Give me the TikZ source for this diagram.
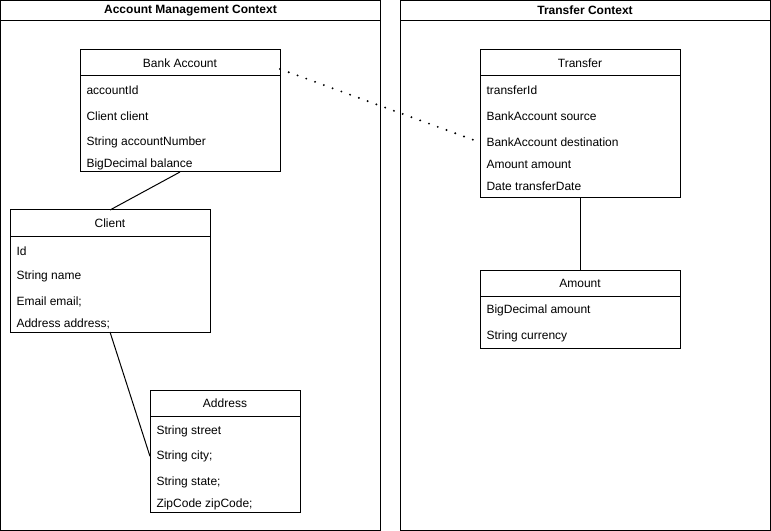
\documentclass[tikz,border=0pt]{standalone}
\usepackage{fontspec}
\setmainfont{Liberation Sans}
\usetikzlibrary{positioning}

\begin{document}
\begin{tikzpicture}[x=0.75pt, y=-0.75pt,
    line width=0.75pt,
    font=\fontsize{9}{11}\selectfont,
       frame/.style = {draw, inner sep=0pt, outer sep=0pt},% boxes
         ctx/.style = {frame, minimum height=15pt, font=\fontsize{9}{11}\selectfont\bfseries},% context titles
        head/.style = {frame, minimum height=19.5pt},% class titles
         row/.style = {anchor=west, inner sep=0pt, yshift=-1pt}% attributes
    ]
    \useasboundingbox (0,0) rectangle (771,531);
    % contexts
    \node (amctx) [ctx, minimum width=285pt, anchor=north west] at (0.5,0.5) {Account Management Context};
    \node (ambody) [frame, minimum width=285pt, minimum height=382.5pt, below=0pt of amctx] {};
    \node (trctx) [ctx, minimum width=277.5pt, anchor=north west] at (400,0.5) {Transfer Context};
    \node (trbody) [frame, minimum width=277.5pt, minimum height=382.5pt, below=0pt of trctx] {};
    % bank account
    \node (bankhead) [head, minimum width=150pt, anchor=north west] at (80,50) {Bank Account};
    \node (bank) [frame, minimum width=150pt, minimum height=72pt, below=0pt of bankhead] {};
    \node (bank1) [row] at (86,89) {accountId};
    \node (bank2) [row] at (86,115) {Client client};
    \node (bank3) [row] at (86,141) {String accountNumber};
    \node (bank4) [row] at (86,163) {BigDecimal balance};
    % client
    \node (clienthead) [head, minimum width=150pt, anchor=north west] at (10,210) {Client};
    \node (client) [frame, minimum width=150pt, minimum height=72pt, below=0pt of clienthead] {};
    \node (client1) [row] at (16,250) {Id};
    \node (client2) [row] at (16,275) {String name};
    \node (client3) [row] at (16,301) {Email email;};
    \node (client4) [row] at (16,323) {Address address;};
    % address
    \node (addresshead) [head, minimum width=112.5pt, anchor=north west] at (150,390) {Address};
    \node (address) [frame, minimum width=112.5pt, minimum height=72pt, below=0pt of addresshead] {};
    \node (address1) [row] at (156,430) {String street};
    \node (address2) [row] at (156,455) {String city;};
    \node (address3) [row] at (156,481) {String state;};
    \node (address4) [row] at (156,503) {ZipCode zipCode;};
    % transfer
    \node (transferhead) [head, minimum width=150pt, anchor=north west] at (480,50) {Transfer};
    \node (transfer) [frame, minimum width=150pt, minimum height=91.5pt, below=0pt of transferhead] {};
    \node (transfer1) [row] at (486,89) {transferId};
    \node (transfer2) [row] at (486,115) {BankAccount source};
    \node (transfer3) [row] at (486,141) {BankAccount destination};
    \node (transfer4) [row] at (486,163) {Amount amount};
    \node (transfer5) [row] at (486,185) {Date transferDate};
    % amount
    \node (amounthead) [head, minimum width=150pt, anchor=north west] at (480,270) {Amount};
    \node (amount) [frame, minimum width=150pt, minimum height=39pt, below=0pt of amounthead] {};
    \node (amount1) [row] at (486,309) {BigDecimal amount};
    \node (amount2) [row] at (486,335) {String currency};
    % links
    \draw (bank.south) -- (clienthead.north);
    \draw (client.south) -- (address.west |- address2);
    \draw (transfer.south) -- (amounthead.north);
    \draw[line width=1.6pt, line cap=round, dash pattern=on 0pt off 7pt] ([yshift=-4.5pt]bankhead.east) -- (transfer.west |- transfer3);
\end{tikzpicture}
\end{document}
